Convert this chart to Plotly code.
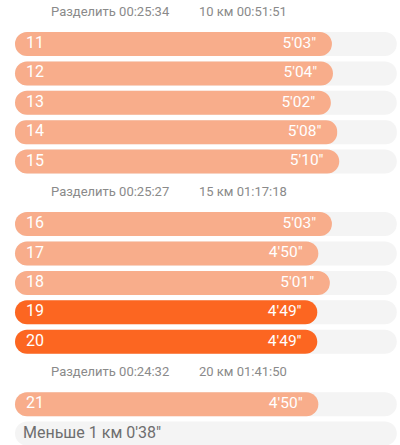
"""
Lap pace bars (km 11-21) with split headers, redrawn with Plotly.
"""

import plotly.graph_objects as go

# ---- data -------------------------------------------------------------
laps = [11, 12, 13, 14, 15, 16, 17, 18, 19, 20, 21]
pace_sec = [303, 304, 302, 308, 310, 303, 290, 301, 289, 289, 290]
fastest_laps = [19, 20]

split_times = ["00:25:34", "00:25:27", "00:24:32"]
split_km = [10, 15, 20]
split_total = ["00:51:51", "01:17:18", "01:41:50"]

remainder_label = "Меньше 1 км"
remainder_sec = 38
track_max_sec = 365

# ---- styles -----------------------------------------------------------
LIGHT = "#F8AD8B"
DARK = "#FC6621"
TRACK = "#F4F4F4"
FONT = "Roboto"

W, H = 400, 445
PX_PER_SEC = 1.046
X0_PX = 15
ROW_H = 24
ROW_STEP = 29.4
HEAD_STEP = 31
TOP = 13


def fmt_pace(s):
    return f"{s // 60}'{s % 60:02d}\""


def px_to_x(px):
    return (px - X0_PX) / PX_PER_SEC


# vertical positions: header, 5 laps, header, 5 laps, header, 1 lap, remainder
head_y = []
lap_y = []
y = TOP
for n in [5, 5, 1]:
    head_y.append(y)
    y += HEAD_STEP
    for i in range(n):
        lap_y.append(y)
        if i < n - 1:
            y += ROW_STEP
    y += HEAD_STEP + 0.5
rem_y = lap_y[-1] + ROW_STEP

colors = [DARK if lap in fastest_laps else LIGHT for lap in laps]
all_y = lap_y + [rem_y]


def pill(fig, values, ys, color):
    # with an explicit base plotly rounds both ends of the bar
    fig.add_trace(go.Bar(
        y=ys, x=values, base=[0] * len(values), orientation="h", width=ROW_H,
        marker=dict(color=color, cornerradius="50%", line=dict(width=0)),
        hoverinfo="skip", showlegend=False,
    ))


fig = go.Figure()

# grey tracks, then the pace bars on top
pill(fig, [track_max_sec] * len(all_y), all_y, TRACK)
pill(fig, pace_sec, lap_y, colors)

# lap numbers
fig.add_trace(go.Scatter(
    x=[px_to_x(26)] * len(laps), y=lap_y, mode="text",
    text=[str(l) for l in laps], textposition="middle right",
    textfont=dict(family=FONT, size=16, color="white"),
    hoverinfo="skip", showlegend=False,
))

# pace labels at the end of each bar
fig.add_trace(go.Scatter(
    x=[p - 15 for p in pace_sec], y=lap_y, mode="text",
    text=[fmt_pace(p) for p in pace_sec], textposition="middle left",
    textfont=dict(family=FONT, size=15.5, color="white"),
    hoverinfo="skip", showlegend=False,
))

# remainder row
fig.add_trace(go.Scatter(
    x=[px_to_x(23)], y=[rem_y], mode="text",
    text=[f"{remainder_label} 0'{remainder_sec:02d}\""], textposition="middle right",
    textfont=dict(family=FONT, size=16, color="#6E6E6E"),
    hoverinfo="skip", showlegend=False,
))

# split headers
fig.add_trace(go.Scatter(
    x=[px_to_x(51)] * len(head_y), y=head_y, mode="text",
    text=[f"Разделить {t}" for t in split_times], textposition="middle right",
    textfont=dict(family=FONT, size=13, color="#8A8A8A"),
    hoverinfo="skip", showlegend=False,
))
fig.add_trace(go.Scatter(
    x=[px_to_x(199)] * len(head_y), y=head_y, mode="text",
    text=[f"{k} км {t}" for k, t in zip(split_km, split_total)], textposition="middle right",
    textfont=dict(family=FONT, size=13, color="#8A8A8A"),
    hoverinfo="skip", showlegend=False,
))

fig.update_layout(
    width=W, height=H,
    margin=dict(l=0, r=0, t=0, b=0),
    barmode="overlay",
    plot_bgcolor="white", paper_bgcolor="white",
    xaxis=dict(range=[px_to_x(0), px_to_x(W)], visible=False, fixedrange=True),
    yaxis=dict(range=[H, 0], visible=False, fixedrange=True),
    font=dict(family=FONT),
)

# page body margin would push the chart 8px off the window
fig.write_html(
    "out.html",
    config={"displayModeBar": False},
    post_script="document.body.style.margin='0px';",
)
